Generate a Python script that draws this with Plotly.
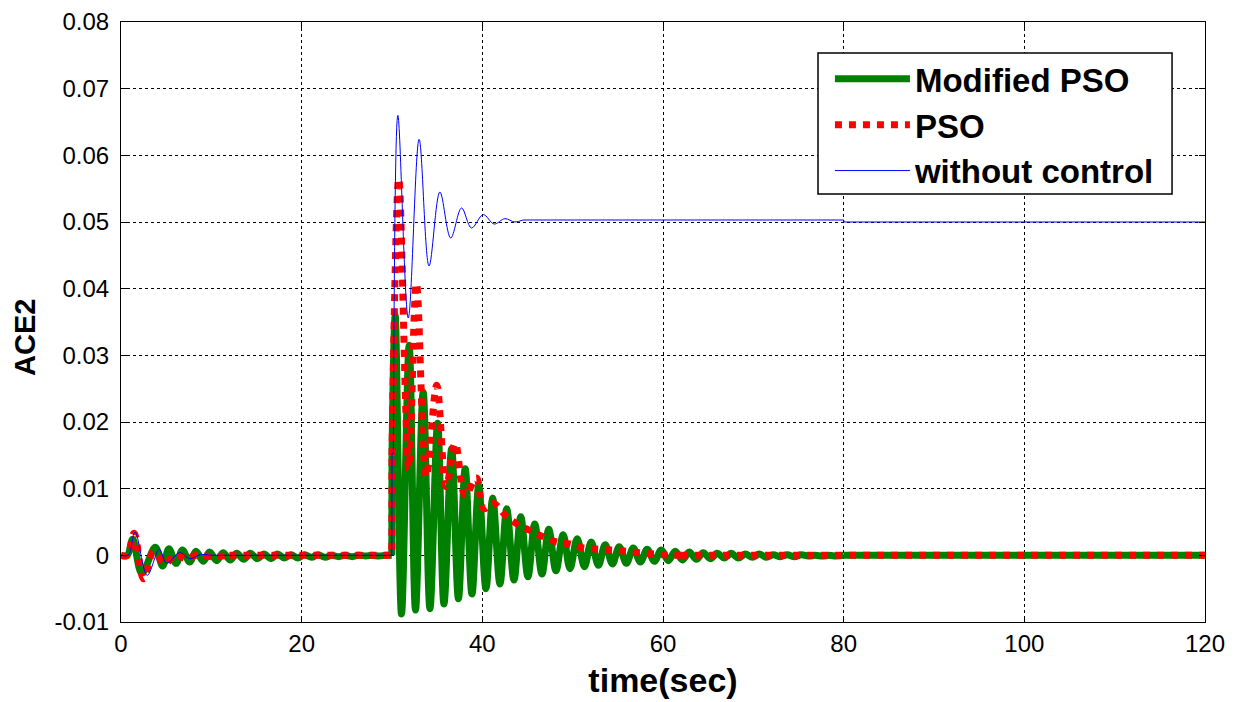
import plotly.graph_objects as go

# ---------------- data ----------------
# Modified PSO: extrema of the oscillating response (time in s, ACE2 value)
mpso_t = [0, 0.7, 1.3, 2.3, 3.8, 4.6, 5.3, 6.1, 6.8, 7.6, 8.3, 9.1, 9.8, 10.6,
          11.3, 12.1, 12.8, 13.6, 14.3, 15.1, 15.8, 16.6, 17.3, 18.1, 18.8,
          19.6, 20.3, 21.1, 21.8, 22.6, 23.3, 24.1, 24.8, 25.6, 26.3, 27.1,
          27.8, 28.6, 29.3, 29.98,
          30.0, 30.35, 31.05, 31.9, 32.6, 33.45, 34.2, 35.05, 35.75, 36.6,
          37.35, 38.1, 38.85, 39.6, 40.4, 41.15, 41.95, 42.7, 43.5, 44.25,
          45.05, 45.8, 46.6, 47.35, 48.15, 48.95, 49.7, 50.5, 51.3, 52.05,
          52.85, 53.6, 54.4, 55.15, 55.95, 56.7, 57.5, 58.25, 59.05, 59.8,
          60.6, 61.35, 62.15, 62.9, 63.7, 64.45, 65.25, 66.0, 66.8, 67.55,
          68.35, 69.1, 69.9, 70.65, 71.45, 72.2, 73.0, 73.75, 74.55, 75.3,
          76.1, 76.85, 77.65, 78.4, 79.2, 80.0, 120.0]
mpso_v = [0, 0, 0.0024, -0.0027, 0.0012, -0.0016, 0.0010, -0.0012, 0.0008,
          -0.0010, 0.0006, -0.0009, 0.0005, -0.0008, 0.0004, -0.0007, 0.0003,
          -0.0006, 0.0003, -0.0005, 0.0002, -0.0005, 0.0002, -0.0004, 0.0001,
          -0.0004, 0.0001, -0.0003, 0.0001, -0.0003, 0.0, -0.0002, 0.0,
          -0.0002, 0.0, -0.0001, 0.0, -0.0001, 0.0, 0.0,
          0.015, 0.036, -0.0088, 0.0315, -0.0082, 0.0245, -0.0080, 0.0198,
          -0.0073, 0.0160, -0.0065, 0.0130, -0.0058, 0.0104, -0.0050, 0.0086,
          -0.0043, 0.0070, -0.0037, 0.0058, -0.0032, 0.0047, -0.0028, 0.0039,
          -0.0023, 0.0031, -0.0020, 0.0025, -0.0017, 0.0020, -0.0015, 0.0016,
          -0.0013, 0.0013, -0.0012, 0.0011, -0.0010, 0.0009, -0.0009, 0.0008,
          -0.0008, 0.0006, -0.0007, 0.0005, -0.0006, 0.0004, -0.0005, 0.0003,
          -0.0004, 0.0003, -0.0004, 0.0002, -0.0003, 0.0002, -0.0003, 0.0001,
          -0.0002, 0.0001, -0.0002, 0.0001, -0.0001, 0.0, -0.0001, 0.0,
          -0.0001, 0.0, 0.0]

# PSO
pso_t = [0, 0.7, 1.45, 2.5, 3.6, 4.9, 6.0, 7.2, 8.5, 10.0, 12.0, 29.98,
         30.0, 30.75, 31.85, 32.7, 33.8, 34.95, 36.0, 37.0, 38.1, 39.35,
         40.15, 41.2, 42.7, 44.35, 45.5, 46.7, 48.2, 49.7, 51.2, 53.0, 54.5,
         56.0, 58.0, 60.0, 62.0, 120.0]
pso_v = [0, 0, 0.0033, -0.0035, 0.0005, -0.0013, 0.0002, -0.0005, 0.0001,
         -0.0002, 0.0, 0.0,
         0.015, 0.0565, 0.0130, 0.0408, 0.0118, 0.0255, 0.0103, 0.0168,
         0.0090, 0.0116, 0.0070, 0.0078, 0.0058, 0.0043, 0.0036, 0.0028,
         0.0020, 0.0017, 0.0011, 0.0009, 0.0008, 0.0006, 0.0003, 0.0001,
         0.0, 0.0]

# without control
noc_t = [0, 0.8, 1.55, 2.9, 4.25, 5.05, 6.5, 7.6, 8.8, 10.0, 29.98, 30.0,
         30.15, 30.65, 31.8, 33.0, 34.1, 35.3, 36.5, 37.7, 38.8, 40.1, 41.3,
         42.5, 43.6, 44.5, 80.0, 80.05, 120.0]
noc_v = [0, 0, 0.0035, -0.0030, 0.0009, -0.0012, 0.0004, -0.0005, 0.0001,
         0.0, 0.0, 0.0153,
         0.0153, 0.0660, 0.0356, 0.0624, 0.0434, 0.0545, 0.0476, 0.0521,
         0.0491, 0.0511, 0.0497, 0.0505, 0.0500, 0.0503, 0.0503, 0.0500,
         0.0500]

series_names = ["Modified PSO", "PSO", "without control"]

# oscillating stretches drawn smooth (spline); steps and flat stretches straight
mpso_segments = [(0, 29.98, "spline"), (29.98, 30.0, "linear"),
                 (30.0, 80.0, "spline"), (80.0, 120.0, "linear")]
pso_segments = [(0, 12.0, "spline"), (12.0, 30.0, "linear"),
                (30.0, 62.0, "spline"), (62.0, 120.0, "linear")]
noc_segments = [(0, 10.0, "spline"), (10.0, 30.15, "linear"),
                (30.15, 44.5, "spline"), (44.5, 120.0, "linear")]

x_ticks = [0, 20, 40, 60, 80, 100, 120]
x_ticktext = ["0", "20", "40", "60", "80", "100", "120"]
y_ticks = [-0.01, 0, 0.01, 0.02, 0.03, 0.04, 0.05, 0.06, 0.07, 0.08]
y_ticktext = ["-0.01", "0", "0.01", "0.02", "0.03", "0.04", "0.05", "0.06",
              "0.07", "0.08"]

FONT = "Liberation Sans, Arial, sans-serif"

# ---------------- figure ----------------
fig = go.Figure()


def add_series(ts, vs, segments, name, line):
    first = True
    for (a, b, shape) in segments:
        xs = [t for t in ts if a <= t <= b]
        ys = [v for t, v in zip(ts, vs) if a <= t <= b]
        ln = dict(line)
        ln["shape"] = shape
        if shape == "spline":
            ln["smoothing"] = 1.0
        fig.add_trace(go.Scatter(x=xs, y=ys, mode="lines", name=name,
                                 legendgroup=name, showlegend=first, line=ln))
        first = False


add_series(mpso_t, mpso_v, mpso_segments, series_names[0],
           dict(color="#008000", width=7))
add_series(pso_t, pso_v, pso_segments, series_names[1],
           dict(color="#ff0000", width=7, dash="dot"))
add_series(noc_t, noc_v, noc_segments, series_names[2],
           dict(color="#0000ff", width=1))

axis_common = dict(
    showline=True, linecolor="black", linewidth=1, mirror="ticks",
    ticks="inside", ticklen=6, tickcolor="black",
    showgrid=True, gridcolor="black", griddash="dot", gridwidth=1,
    zeroline=False,
    tickfont=dict(family=FONT, size=24, color="black"),
)

fig.update_xaxes(range=[0, 120], tickvals=x_ticks, ticktext=x_ticktext,
                 title=dict(text="time(sec)", standoff=12,
                            font=dict(family=FONT, size=34, color="black",
                                      weight="bold")),
                 **axis_common)
fig.update_yaxes(range=[-0.01, 0.08], tickvals=y_ticks, ticktext=y_ticktext,
                 ticklabelstandoff=6, **axis_common)

# y-axis label placed as rotated text
fig.add_annotation(text="<b>ACE2</b>", xref="paper", yref="paper",
                   x=-0.0886, y=0.475, xanchor="center", yanchor="middle",
                   textangle=-90, showarrow=False,
                   font=dict(family=FONT, size=29, color="black"))

# legend frame (white box with black border) behind the legend entries
fig.add_shape(type="rect", xref="paper", yref="paper",
              x0=0.643, x1=0.9696, y0=0.7133, y1=0.9483,
              line=dict(color="black", width=1.5), fillcolor="white",
              layer="above")

fig.update_layout(
    width=1229, height=694,
    margin=dict(l=113, r=32, t=14, b=80, autoexpand=False),
    plot_bgcolor="white", paper_bgcolor="white",
    showlegend=True,
    legend=dict(
        x=0.654, y=0.952, xanchor="left", yanchor="top",
        bgcolor="rgba(0,0,0,0)", borderwidth=0,
        itemwidth=75, tracegroupgap=0,
        font=dict(family=FONT, size=33, color="black", weight="bold"),
    ),
)

fig.write_html("out.html")
